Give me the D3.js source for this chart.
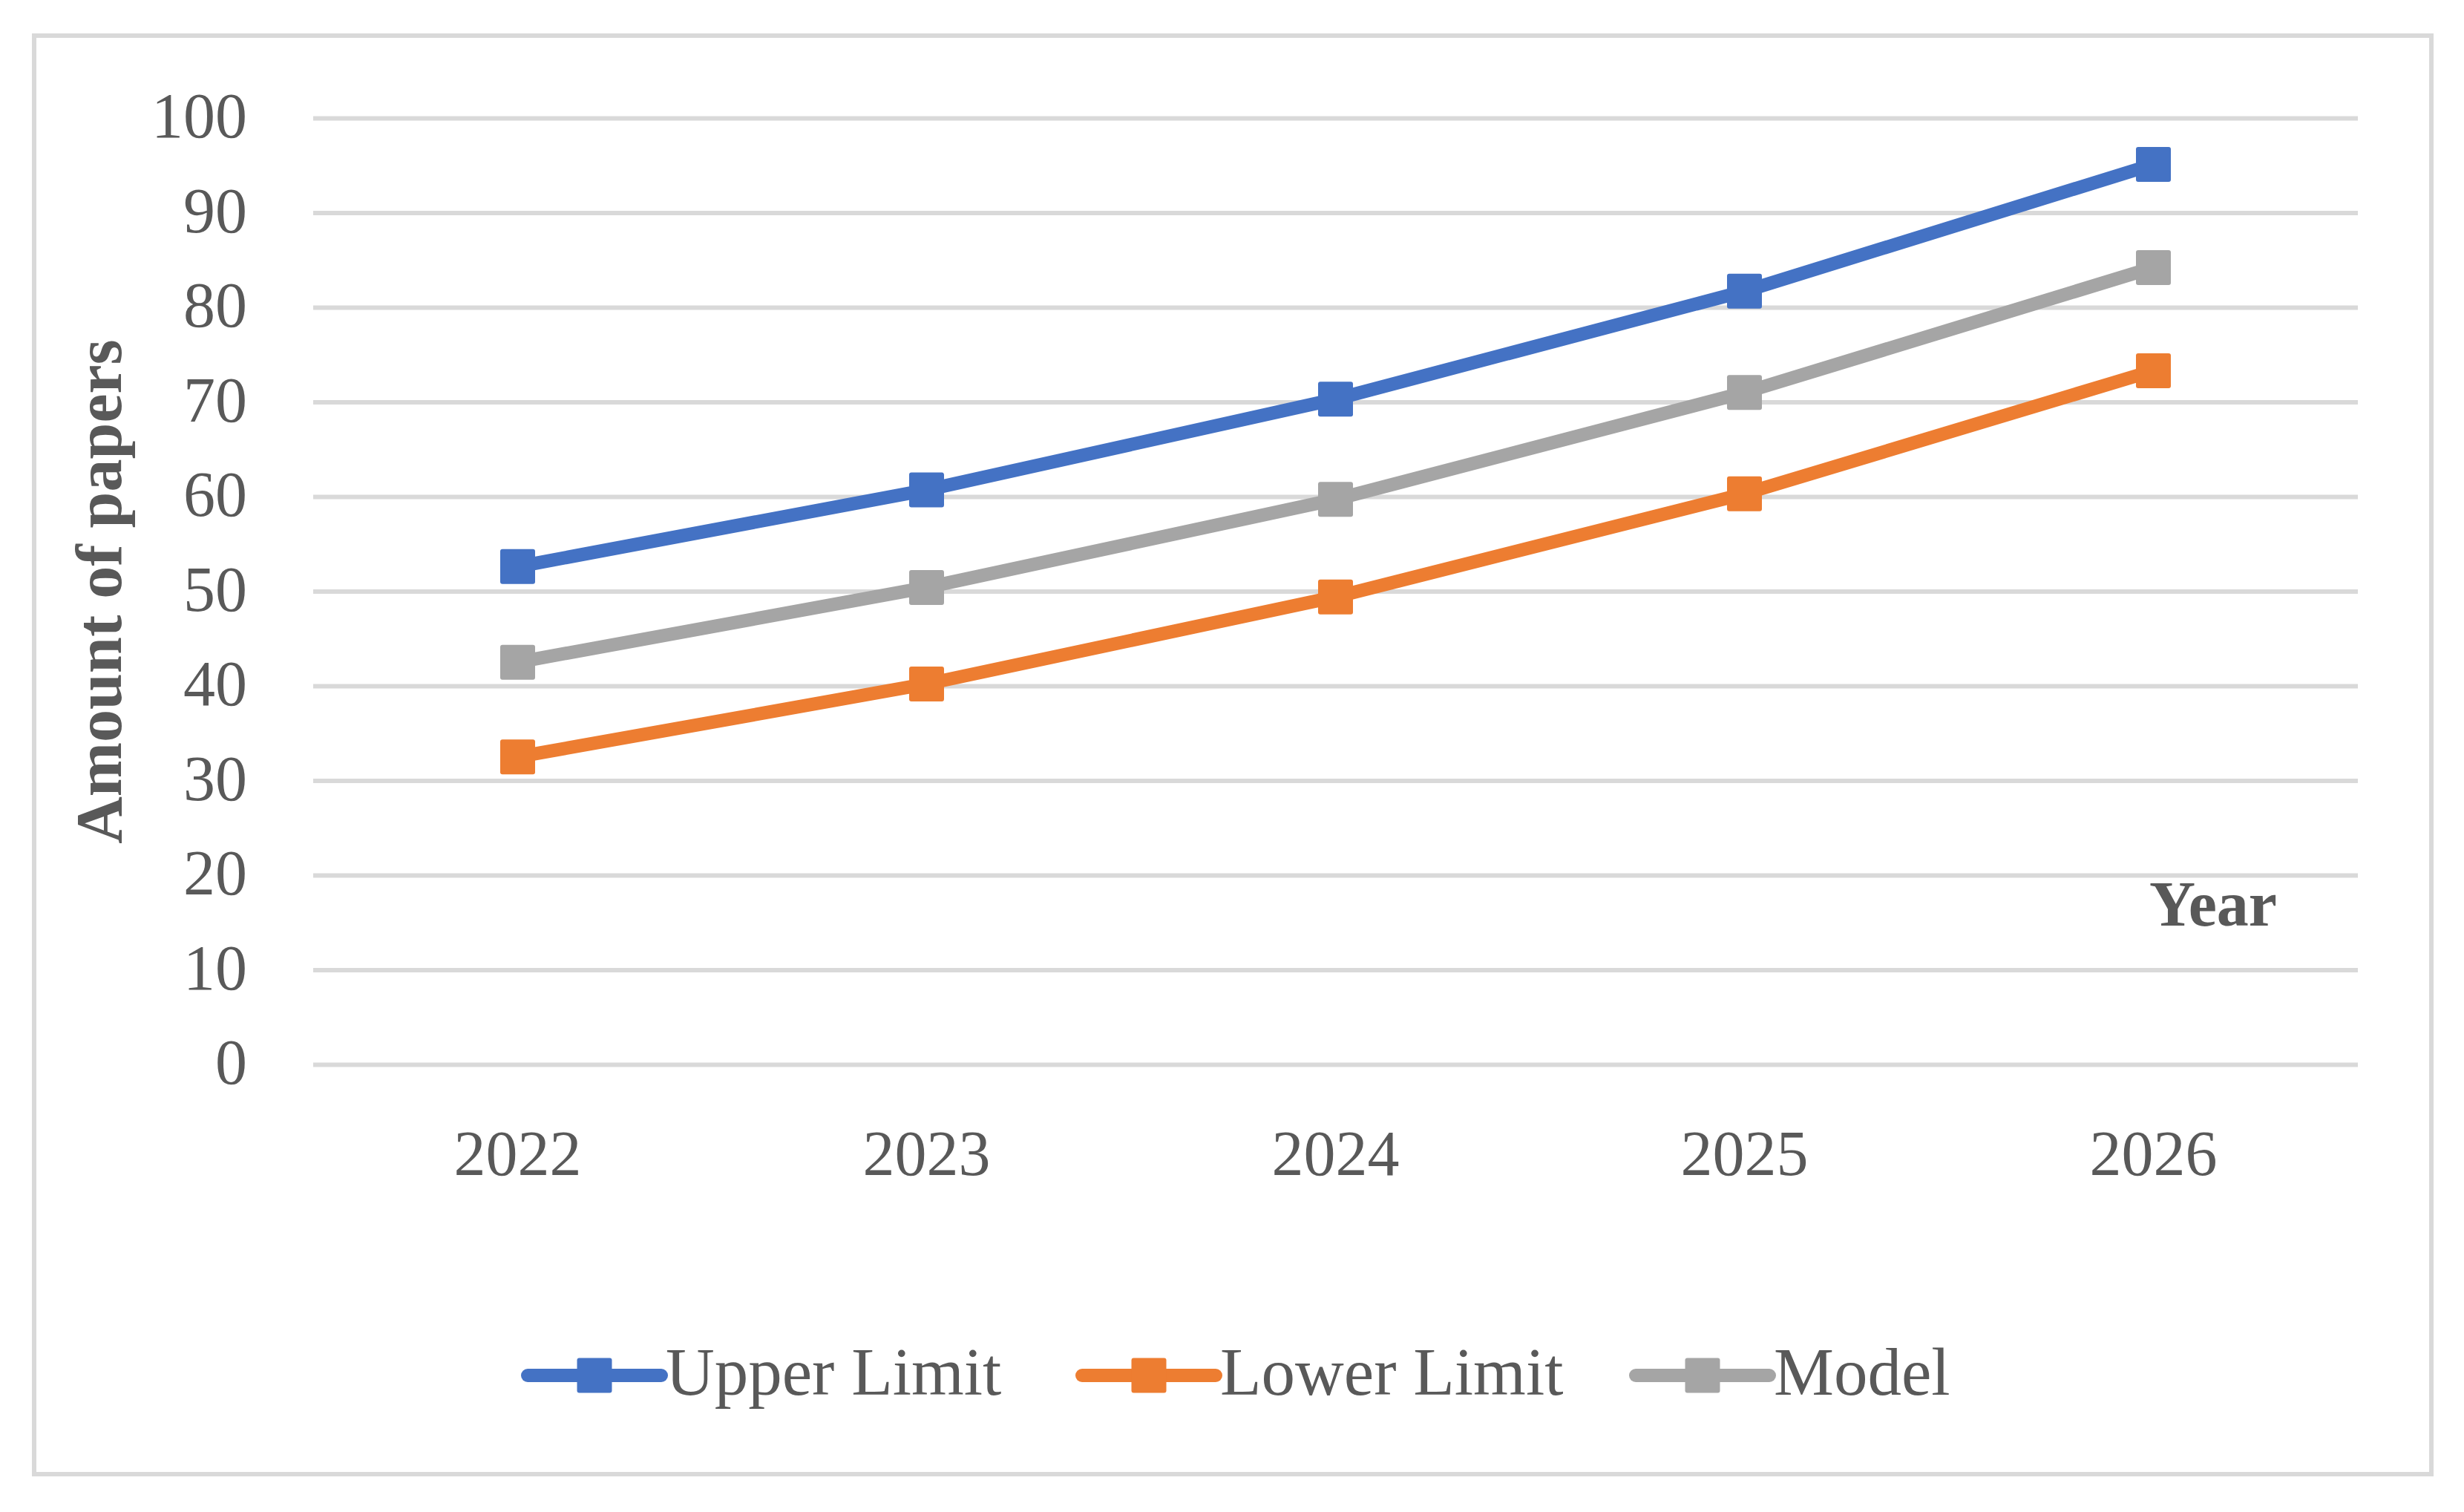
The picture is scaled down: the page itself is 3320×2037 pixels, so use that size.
<!DOCTYPE html>
<html>

<head>
    <meta charset="utf-8">
    <style>
        body {
            margin: 0;
            background: #ffffff;
        }

        svg {
            display: block;
            font-family: "Liberation Serif", "Times New Roman", serif;
        }

        .y .tick line {
            stroke: #d9d9d9;
            stroke-width: 6px;
        }

        .y .domain,
        .x .domain,
        .x .tick line {
            display: none;
        }

        .y .tick text,
        .x .tick text {
            font-family: "Liberation Serif", "Times New Roman", serif;
            font-size: 86px;
            fill: #595959;
        }
    </style>
</head>

<body>
    <svg width="3320" height="2037"></svg>
</body>

<script src="https://d3js.org/d3.v7.min.js"></script>

<script>
    // data
    const years = ["2022", "2023", "2024", "2025", "2026"]
    const upper_limit = [52.6, 60.7, 70.3, 81.7, 95.1]
    const lower_limit = [32.5, 40.2, 49.4, 60.3, 73.3]
    const model = [42.5, 50.4, 59.7, 71.0, 84.2]
    const y_ticks = [0, 10, 20, 30, 40, 50, 60, 70, 80, 90, 100]

    const series_names = ["Upper Limit", "Lower Limit", "Model"]
    const series_values = [upper_limit, lower_limit, model]
    const colors = ["#4472c4", "#ed7d31", "#a5a5a5"]

    let svg = d3.select("svg")

    let margin = { top: 159, right: 143, bottom: 603, left: 422 }
    let width = 3320
    let height = 2037

    // outer frame
    svg.append("rect")
        .attr("x", 46)
        .attr("y", 48)
        .attr("width", 3276 - 46)
        .attr("height", 1986 - 48)
        .style("fill", "white")
        .style("stroke", "#d9d9d9")
        .style("stroke-width", "6px")

    let x = d3.scaleBand()
        .domain(years)
        .range([margin.left, width - margin.right])

    let y = d3.scaleLinear()
        .domain([0, 100])
        .range([height - margin.bottom, margin.top])

    let yAxisSettings = d3.axisLeft(y)
        .tickValues(y_ticks)
        .tickSize(-(width - margin.right - margin.left))
        .tickPadding(89)

    let xAxisSettings = d3.axisBottom(x)
        .tickSize(0)
        .tickPadding(88)

    svg.append("g")
        .attr("class", "y axis")
        .attr("transform", `translate(${margin.left},0)`)
        .call(yAxisSettings)
        .attr("font-family", null)
        .selectAll(".tick text")
        .attr("dy", "0.3em")

    svg.append("g")
        .attr("class", "x axis")
        .attr("transform", `translate(0,${height - margin.bottom})`)
        .call(xAxisSettings)
        .attr("font-family", null)

    // axis titles
    svg.append("text")
        .attr("transform", "translate(163,797) rotate(-90)")
        .attr("text-anchor", "middle")
        .style("font-size", "88px")
        .style("font-weight", "bold")
        .style("fill", "#595959")
        .text("Amount of papers")

    svg.append("text")
        .attr("x", 3068)
        .attr("y", 1247)
        .attr("text-anchor", "end")
        .style("font-size", "86px")
        .style("font-weight", "bold")
        .style("fill", "#595959")
        .text("Year")

    let line = d3.line()
        .x((d, i) => x(years[i]) + x.bandwidth() / 2)
        .y(d => y(d))

    let marker = 47

    let groups = svg.append("g")
        .selectAll(".series")
        .data(series_values)
        .join("g")
        .attr("class", "series")

    groups.append("path")
        .attr("d", d => line(d))
        .style("fill", "none")
        .style("stroke", (d, i) => colors[i])
        .style("stroke-width", "18px")
        .style("stroke-linejoin", "round")

    groups.each(function (vals, si) {
        d3.select(this).selectAll("rect")
            .data(vals)
            .join("rect")
            .attr("x", (d, i) => x(years[i]) + x.bandwidth() / 2 - marker / 2)
            .attr("y", d => y(d) - marker / 2)
            .attr("width", marker)
            .attr("height", marker)
            .attr("rx", 3)
            .style("fill", colors[si])
    })

    // legend
    let legend_x = [711, 1458, 2204]
    let legend_y = 1853

    let legend = svg.append("g")
        .selectAll(".legend")
        .data(series_names)
        .join("g")
        .attr("class", "legend")
        .attr("transform", (d, i) => `translate(${legend_x[i]},${legend_y})`)

    legend.append("line")
        .attr("x1", 0)
        .attr("x2", 180)
        .attr("y1", 0)
        .attr("y2", 0)
        .style("stroke", (d, i) => colors[i])
        .style("stroke-width", "18px")
        .style("stroke-linecap", "round")

    legend.append("rect")
        .attr("x", 90 - marker / 2)
        .attr("y", -marker / 2)
        .attr("width", marker)
        .attr("height", marker)
        .attr("rx", 3)
        .style("fill", (d, i) => colors[i])

    legend.append("text")
        .attr("x", 186)
        .attr("y", 26)
        .style("font-size", "91px")
        .style("fill", "#595959")
        .text(d => d)
</script>

</html>
